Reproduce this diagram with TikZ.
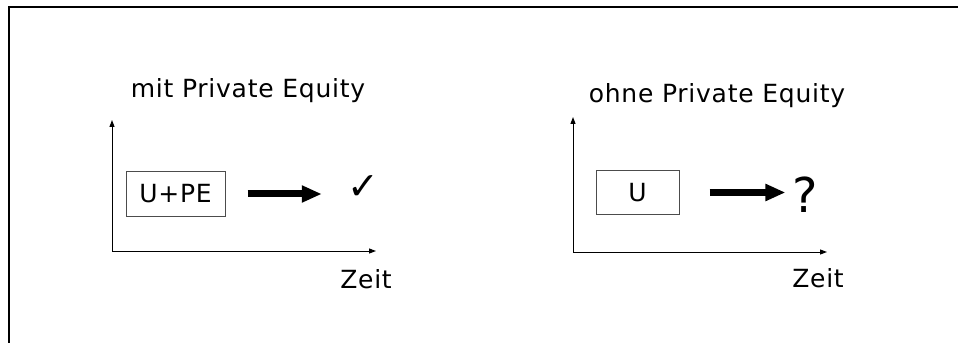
\documentclass[tikz,border=0pt]{standalone}
\usepackage{fontspec}
\setmainfont{DejaVu Sans}[LetterSpace=3]
\usetikzlibrary{arrows.meta}
\usetikzlibrary{calc}
\begin{document}
\begin{tikzpicture}[x=1pt,y=1pt,semithick,
		axis/.style={line width=1pt,-{Triangle[length=7pt,width=5pt]}},
		bigarrow/.style={line width=7pt,-{Triangle[length=20pt,width=16pt]}}]
		\tikzstyle{every node}=[inner sep=0pt]
		\tikzstyle{unit}=[draw=black!70,line width=1pt,minimum height=44pt,font=\fontsize{25}{30}\selectfont]
		\tikzstyle{title}=[anchor=base,font=\fontsize{25}{30}\selectfont]
		
		\useasboundingbox (0,0) rectangle (958,343);
		\draw[line width=2pt] (958,335.5) -- (8.5,335.5) -- (8.5,0);
		
		% mit Private Equity
		\coordinate (MitOrigin) at (112,92);
		\coordinate (MitTop)    at (112,223);
		\coordinate (MitEnd)    at (376,92);
		\draw[axis] (MitOrigin) -- (MitTop);
		\draw[axis] (MitOrigin) -- (MitEnd);
		\node[title]             (MitTitle) at (248,245)   {mit Private Equity};
		\node[title]             (MitZeit)  at (366,55)    {Zeit};
		\node[unit,minimum width=99pt] (MitBox) at (175.5,149) {U+PE};
		\node[font=\fontsize{38}{44}\selectfont] (MitCheck) at (363,155) {✓};
		\draw[bigarrow,shorten <=22pt,shorten >=25pt] (MitBox.east) -- (MitBox.east -| MitCheck.west);
		
		% ohne Private Equity
		\coordinate (OhneOrigin) at (573,91);
		\coordinate (OhneTop)    at (573,226);
		\coordinate (OhneEnd)    at (827,91);
		\draw[axis] (OhneOrigin) -- (OhneTop);
		\draw[axis] (OhneOrigin) -- (OhneEnd);
		\node[title]             (OhneTitle) at (717,240)  {ohne Private Equity};
		\node[title]             (OhneZeit)  at (818,56)   {Zeit};
		\node[unit,minimum width=83pt] (OhneBox) at (637.5,150.5) {U};
		\node[anchor=base,font=\fontsize{48}{56}\selectfont] (OhneFrage) at (805.5,131) {?};
		\draw[bigarrow,shorten <=30pt,shorten >=7pt] (OhneBox.east) -- (OhneBox.east -| OhneFrage.west);
		
\end{tikzpicture}
\end{document}
